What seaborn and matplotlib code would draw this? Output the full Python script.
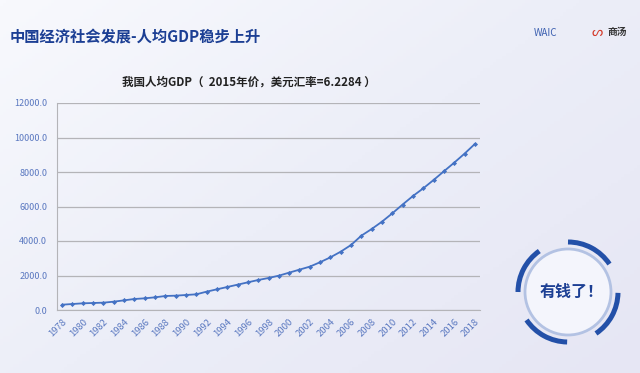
import numpy as np
import pandas as pd
import matplotlib
matplotlib.use("Agg")
import matplotlib.pyplot as plt
from matplotlib.patches import Arc, Circle
import seaborn as sns

# -----------------------------------------------------------------
# Data (per-capita GDP, 2015 prices, USD)
# -----------------------------------------------------------------
years = list(range(1978, 2019))
gdp_per_capita = [
    307, 348, 387, 406, 425, 483, 560, 638, 677, 735,
    812, 831, 870, 909, 1063, 1199, 1333, 1468, 1604, 1739,
    1855, 1990, 2165, 2339, 2513, 2770, 3053, 3382, 3768, 4309,
    4695, 5121, 5604, 6115, 6608, 7053, 7536, 8040, 8541, 9063,
    9624,
]
tick_years = years[::2]
y_ticks = [0, 2000, 4000, 6000, 8000, 10000, 12000]

page_title = "中国经济社会发展-人均GDP稳步上升"
chart_title = "我国人均GDP（  2015年价，美元汇率=6.2284 ）"
badge_text = "有钱了！"

df = pd.DataFrame({"year": years, "gdp": gdp_per_capita})

sns.set_style("white")
plt.rcParams["font.family"] = ["Noto Sans CJK SC", "DejaVu Sans"]

LINE = "#4472c4"
TICK = "#5a78c0"
GRID = "#b4b4b8"
NAVY = "#1c3f94"

fig = plt.figure(figsize=(6.4, 3.73), dpi=100)

# background gradient
bg = fig.add_axes([0, 0, 1, 1], zorder=-10)
gx, gy = np.meshgrid(np.linspace(0, 1, 200), np.linspace(0, 1, 120))
grad = 0.55 * gx + 0.45 * gy
bg.imshow(grad, cmap=matplotlib.colors.LinearSegmentedColormap.from_list(
    "bgc", ["#f8f9fd", "#eceef8", "#e6e6f4"]), aspect="auto", extent=[0, 1, 0, 1])
bg.axis("off")

# -----------------------------------------------------------------
# Line chart
# -----------------------------------------------------------------
ax = fig.add_axes([57 / 640, 1 - 310 / 373, (480 - 57) / 640, (310 - 103) / 373])
ax.patch.set_alpha(0)
sns.lineplot(data=df, x="year", y="gdp", ax=ax, color=LINE, linewidth=1.3,
             marker="D", markersize=2.6, markeredgewidth=0, markerfacecolor=LINE)

ax.set_xlim(years[0] - 0.5, years[-1] + 0.5)
ax.set_ylim(0, 12000)
ax.set_yticks(y_ticks)
ax.set_yticklabels([f"{v:.1f}" for v in y_ticks], color=TICK, fontsize=6.5)
ax.set_xticks(tick_years)
ax.set_xticklabels([str(y) for y in tick_years], rotation=45, ha="right",
                   rotation_mode="anchor", color=TICK, fontsize=6.8)
ax.set_xlabel("")
ax.set_ylabel("")
ax.grid(axis="y", color=GRID, linewidth=0.9)
for s in ["top", "right"]:
    ax.spines[s].set_visible(False)
ax.spines["left"].set_color(GRID)
ax.spines["bottom"].set_color(GRID)
ax.tick_params(axis="x", length=3, color=GRID, pad=2)
ax.tick_params(axis="y", length=0, pad=7)

# -----------------------------------------------------------------
# Titles
# -----------------------------------------------------------------
fig.text(10 / 640, 1 - 37 / 373, page_title, fontsize=11, fontweight="bold",
         color=NAVY, va="center", ha="left")
fig.text(249 / 640, 1 - 82 / 373, chart_title, fontsize=8.3, fontweight="bold",
         color="#222222", va="center", ha="center")

# logos (text placeholders)
fig.text(546 / 640, 1 - 33 / 373, "WAIC", fontsize=7, color="#3b5fb0",
         va="center", ha="center")
fig.text(617 / 640, 1 - 32 / 373, "商汤", fontsize=7, fontweight="bold",
         color="#333333", va="center", ha="center")
fig.text(597 / 640, 1 - 32 / 373, "ᔕ", fontsize=9, color="#d43a2a",
         va="center", ha="center", family=["DejaVu Sans"])

# -----------------------------------------------------------------
# Badge circle
# -----------------------------------------------------------------
cx, cy, size = 568, 292, 130
bax = fig.add_axes([(cx - size / 2) / 640, 1 - (cy + size / 2) / 373,
                    size / 640, size / 373])
bax.set_xlim(-size / 2, size / 2)
bax.set_ylim(-size / 2, size / 2)
bax.set_aspect("equal")
bax.axis("off")
bax.add_patch(Circle((0, 0), 43, facecolor="#f4f5fc", edgecolor="#b3c2e3",
                     linewidth=2.0))
for t1, t2 in [(34, 90), (125, 180), (214, 269), (-56, -1)]:
    bax.add_patch(Arc((0, 0), 100, 100, theta1=t1, theta2=t2,
                      color="#2350a8", linewidth=3.6))
bax.text(4, 0, badge_text, fontsize=11.5, fontweight="bold", color=NAVY,
         ha="center", va="center")

fig.savefig("out.png", dpi=100)
